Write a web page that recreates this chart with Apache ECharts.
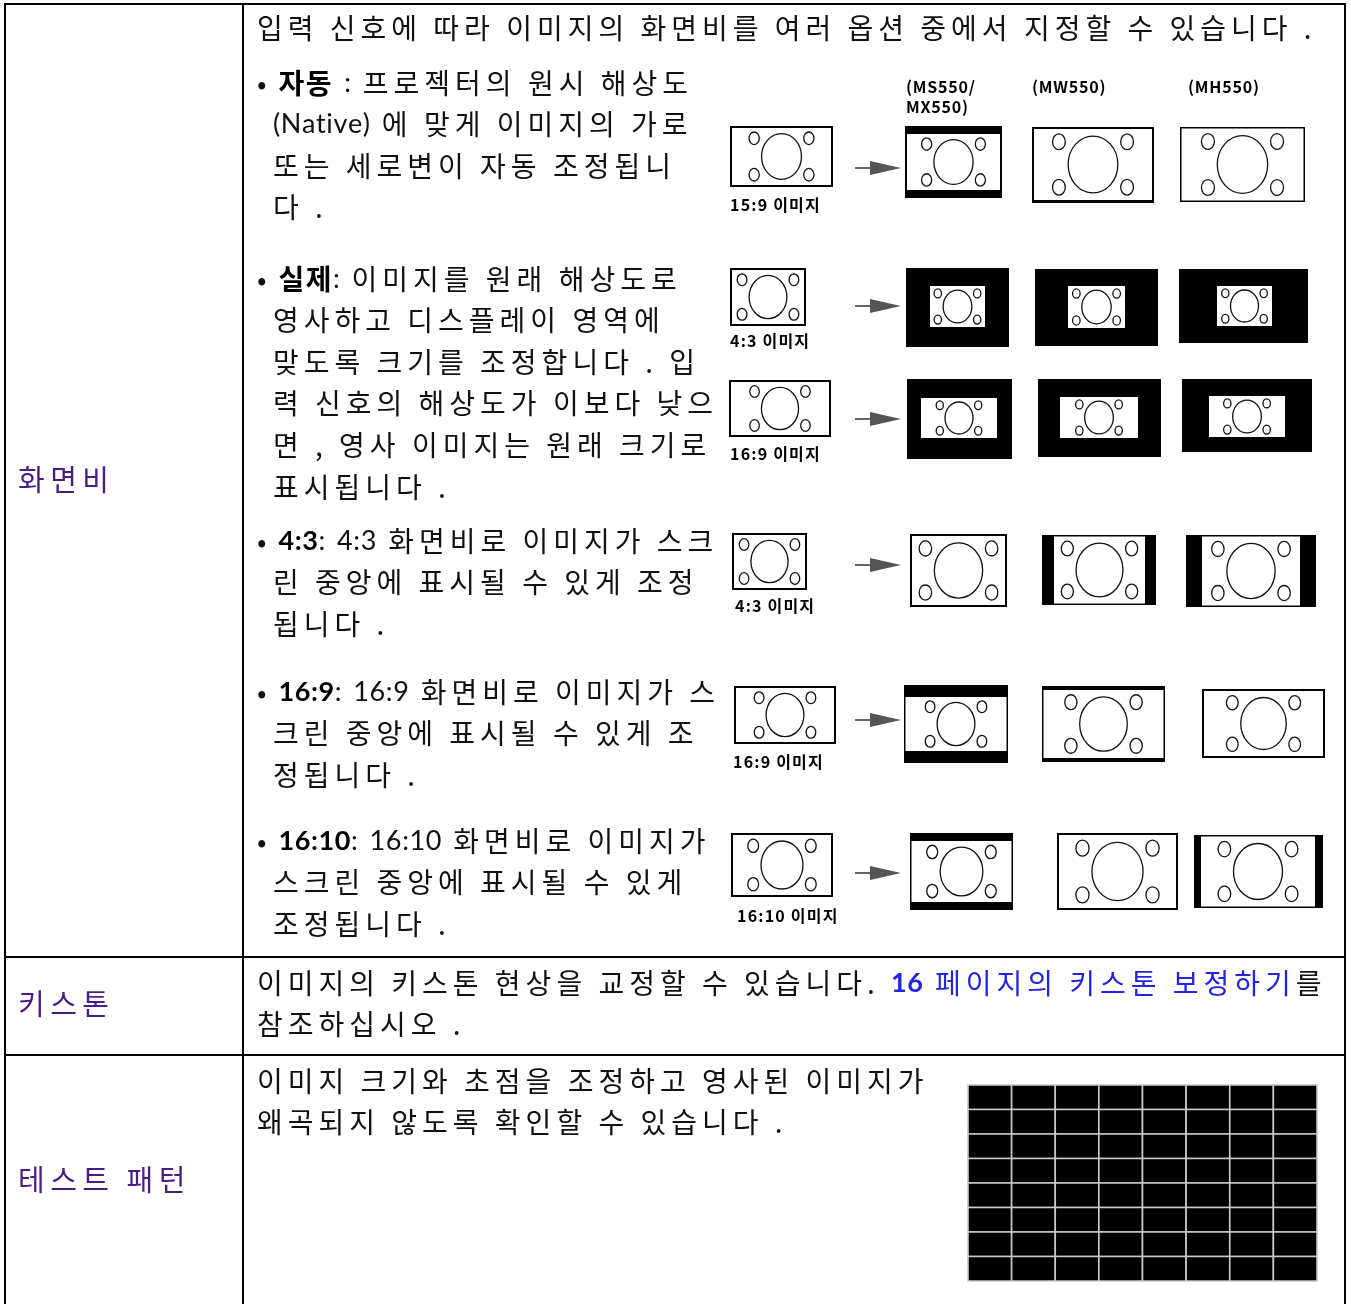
<!DOCTYPE html>
<html><head><meta charset="utf-8">
<script src="https://cdn.jsdelivr.net/npm/echarts@6/dist/echarts.min.js"></script>
<style>html,body{margin:0;padding:0;background:#fff}#c{width:1351px;height:1304px}</style>
</head><body><div id="c"></div>
<script>
// ---------- content (text) ----------
const rowLabels = ['화면비', '키스톤', '테스트 패턴'];
const introLines = ['입력 신호에 따라 이미지의 화면비를 여러 옵션 중에서 지정할 수 있습니다 .'];
const bulletAuto = ['• {b|자동} : 프로젝터의 원시 해상도', '(Native) 에 맞게 이미지의 가로', '또는 세로변이 자동 조정됩니', '다 .'];
const bulletReal = ['• {b|실제}: 이미지를 원래 해상도로', '영사하고 디스플레이 영역에', '맞도록 크기를 조정합니다 . 입', '력 신호의 해상도가 이보다 낮으', '면 , 영사 이미지는 원래 크기로', '표시됩니다 .'];
const bullet43 = ['• {b|4:3}: 4:3 화면비로 이미지가 스크', '린 중앙에 표시될 수 있게 조정', '됩니다 .'];
const bullet169 = ['• {b|16:9}: 16:9 화면비로 이미지가 스', '크린 중앙에 표시될 수 있게 조', '정됩니다 .'];
const bullet1610 = ['• {b|16:10}: 16:10 화면비로 이미지가', '스크린 중앙에 표시될 수 있게', '조정됩니다 .'];
const keystoneLines = ['이미지의 키스톤 현상을 교정할 수 있습니다. {lb|16} {l|페이지의 키스톤 보정하기}를', '참조하십시오 .'];
const testLines = ['이미지 크기와 초점을 조정하고 영사된 이미지가', '왜곡되지 않도록 확인할 수 있습니다 .'];
const sourceLabels = ['15:9 이미지', '4:3 이미지', '16:9 이미지', '4:3 이미지', '16:9 이미지', '16:10 이미지'];
const modelLabels = ['(MS550/', 'MX550)', '(MW550)', '(MH550)'];
const testGridCols = 8;
const testGridRows = 8;

// ---------- layout ----------
const TABLE = { x0: 5, xDiv: 243, x1: 1345, top: 4, bottom: 1304, rows: [957, 1055] };
const TEXT_X = 257, CONT_X = 273, LINE_H = 41.6, FS = 28, LS = 5.0, LS_BOLD = 1.5, LS_LATIN = 0.6, FS_LATIN = 27;
const BULLET_Y = [83, 279, 541, 692, 841];
const LABEL_POS = [[18, 480], [18, 1004], [18, 1180]];
const SRC_LABEL_POS = [[730, 205], [730, 341], [730, 454], [735, 606], [733, 762], [737, 916]];
const MODEL_POS = [[906, 87], [906, 107], [1032, 87], [1188, 87]];
const ARROW_Y = [168, 306, 419, 565, 720, 873];
const TEST_BOX = [968, 1085, 1317, 1281];
// frames: o = outer black box, i = white picture area
const FRAMES = [
  {o:[730,126,833,187], i:[732,128,831,185]},
  {o:[905,126,1002,198], i:[907,134,1000,190]},
  {o:[1032,127,1154,203], i:[1034,129,1152,200]},
  {o:[1180,127,1305,202], i:[1181.5,128.5,1303.5,200.5]},

  {o:[730,268,806,326], i:[732,270,804,324]},
  {o:[906,268,1009,347], i:[930,286,985,327]},
  {o:[1035,269,1158,346], i:[1068,286,1125,328]},
  {o:[1179,269,1308,343], i:[1217,286,1272,326]},

  {o:[729,380,831,437], i:[731,382,829,435]},
  {o:[907,379,1012,459], i:[921,398,997,438]},
  {o:[1038,379,1161,457], i:[1060,397,1138,438]},
  {o:[1182,379,1312,452], i:[1209,396,1285,437]},

  {o:[732,533,807,590], i:[734,535,805,588]},
  {o:[910,534,1007,607], i:[912,536,1005,605]},
  {o:[1042,535,1156,605], i:[1054,536.5,1145,603.5]},
  {o:[1186,535,1316,607], i:[1202,536.5,1300,605.5]},

  {o:[734,686,836,744], i:[736,688,834,742]},
  {o:[904,685,1008,763], i:[905.5,697,1006.5,751]},
  {o:[1042,686,1165,762], i:[1043.5,690,1163.5,758]},
  {o:[1202,689,1325,758], i:[1204,691,1323,756]},

  {o:[731,833,833,897], i:[733,835,831,895]},
  {o:[910,833,1013,910], i:[911.5,841,1011.5,902]},
  {o:[1057,833,1178,910], i:[1059,835,1176,908]},
  {o:[1194,835,1323,908], i:[1201,836.5,1315,906.5]}
];

const FONT = '"Noto Sans CJK KR", "Noto Sans", sans-serif';
const FONT_LATIN = 'Lato, "Noto Sans", sans-serif';
const STYLES = {
  n:  {fw: 'normal', fill: '#111'},
  b:  {fw: 'bold', fill: '#000'},
  l:  {fw: 'normal', fill: '#2323e6'},
  lb: {fw: 'bold', fill: '#2323e6'}
};
const mctx = document.createElement('canvas').getContext('2d');
function measure(ch, fw, fs, fam) {
  mctx.font = fw + ' ' + fs + 'px ' + fam;
  return mctx.measureText(ch).width;
}
const isLatin = ch => /[A-Za-z0-9()\/:]/.test(ch);

// lay out one line character by character, with letter spacing after Korean glyphs
function lineEls(str, x, y, opt) {
  opt = opt || {};
  const fs = opt.fs || FS, ls = opt.ls != null ? opt.ls : LS;
  const latinMode = opt.latin !== false;
  const out = [];
  const re = /\{(\w+)\|([^}]*)\}|([^{]+)/g;
  let m, cx = x;
  while ((m = re.exec(str)) !== null) {
    const key = m[1] || opt.style || 'n';
    const seg = m[1] ? m[2] : m[3];
    const st = Object.assign({}, STYLES[key]);
    if (opt.fill && !m[1]) st.fill = opt.fill;
    const boldSeg = !!m[1] && st.fw === 'bold';
    for (const ch of seg) {
      const lat = latinMode && isLatin(ch);
      const fam = lat ? FONT_LATIN : FONT;
      const size = lat ? Math.round(fs * FS_LATIN / FS) : fs;
      const w = measure(ch, st.fw, size, fam);
      if (ch !== ' ') {
        out.push({
          type: 'text', silent: true,
          style: {text: ch, x: cx, y: y, fontSize: size, fontFamily: fam, fontWeight: st.fw,
                  fill: st.fill, verticalAlign: 'middle', textAlign: 'left'}
        });
      }
      cx += w + ((lat || ch === '•') ? LS_LATIN : (boldSeg ? LS_BOLD : ls));
    }
  }
  return out;
}

const elements = [];
const add = arr => arr.forEach(e => elements.push(e));
introLines.forEach((s, k) => add(lineEls(s, TEXT_X, 28 + k * LINE_H)));
[bulletAuto, bulletReal, bullet43, bullet169, bullet1610].forEach((lines, bi) => {
  lines.forEach((s, k) => add(lineEls(s, k === 0 ? TEXT_X : CONT_X, BULLET_Y[bi] + k * LINE_H)));
});
keystoneLines.forEach((s, k) => add(lineEls(s, TEXT_X, 983 + k * LINE_H)));
testLines.forEach((s, k) => add(lineEls(s, TEXT_X, 1081 + k * LINE_H)));
rowLabels.forEach((s, k) => add(lineEls(s, LABEL_POS[k][0], LABEL_POS[k][1], {fill: '#4a1c86', fs: 29, ls: 5.5})));
sourceLabels.forEach((s, k) => add(lineEls(s, SRC_LABEL_POS[k][0], SRC_LABEL_POS[k][1], {fs: 16, ls: 1.2, style: 'b', latin: false})));
modelLabels.forEach((s, k) => add(lineEls(s, MODEL_POS[k][0], MODEL_POS[k][1], {fs: 16, ls: 0.8, style: 'b', latin: false})));

const chart = echarts.init(document.getElementById('c'), null, {renderer: 'canvas'});

function renderFrame(params, api) {
  const f = FRAMES[api.value(0)];
  const a = api.coord([f.o[0], f.o[1]]), b = api.coord([f.o[2], f.o[3]]);
  const c = api.coord([f.i[0], f.i[1]]), d = api.coord([f.i[2], f.i[3]]);
  const ch = [
    {type: 'rect', shape: {x: a[0], y: a[1], width: b[0] - a[0], height: b[1] - a[1]}, style: {fill: '#000'}},
    {type: 'rect', shape: {x: c[0], y: c[1], width: d[0] - c[0], height: d[1] - c[1]}, style: {fill: '#fff'}}
  ];
  const h = d[1] - c[1], cx = (c[0] + d[0]) / 2, cy = (c[1] + d[1]) / 2;
  const st = {fill: 'none', stroke: '#111', lineWidth: 1.3};
  [[-1, -1], [1, -1], [-1, 1], [1, 1]].forEach(([sx, sy]) => {
    ch.push({type: 'ellipse', shape: {cx: cx + sx * 0.48 * h, cy: cy + sy * 0.32 * h, rx: 0.09 * h, ry: 0.11 * h}, style: st});
  });
  ch.push({type: 'ellipse', shape: {cx: cx, cy: cy, rx: 0.35 * h, ry: 0.40 * h}, style: st});
  return {type: 'group', children: ch};
}

function renderArrow(params, api) {
  const y = api.value(1);
  const p0 = api.coord([855, y]), p1 = api.coord([870, y]), p2 = api.coord([901, y]);
  return {type: 'group', children: [
    {type: 'line', shape: {x1: p0[0], y1: p0[1], x2: p1[0] + 2, y2: p1[1]}, style: {stroke: '#555', lineWidth: 1.8}},
    {type: 'polygon', shape: {points: [[p1[0], p1[1] - 7], [p2[0], p2[1]], [p1[0], p1[1] + 7]]}, style: {fill: '#555'}}
  ]};
}

function renderCell(params, api) {
  const col = api.value(0), row = api.value(1);
  const cw = (TEST_BOX[2] - TEST_BOX[0]) / testGridCols, rh = (TEST_BOX[3] - TEST_BOX[1]) / testGridRows;
  const a = api.coord([TEST_BOX[0] + col * cw, TEST_BOX[1] + row * rh]);
  const b = api.coord([TEST_BOX[0] + (col + 1) * cw, TEST_BOX[1] + (row + 1) * rh]);
  return {type: 'rect', shape: {x: a[0], y: a[1], width: b[0] - a[0], height: b[1] - a[1]},
    style: {fill: '#000', stroke: '#c9c9c9', lineWidth: 1.6}};
}

function renderTable(params, api) {
  const L = (x1, y1, x2, y2) => {
    const p = api.coord([x1, y1]), q = api.coord([x2, y2]);
    return {type: 'line', shape: {x1: p[0], y1: p[1], x2: q[0], y2: q[1]}, style: {stroke: '#000', lineWidth: 2}};
  };
  const ch = [
    L(TABLE.x0 - 1, TABLE.top, TABLE.x1 + 1, TABLE.top),
    L(TABLE.x0, TABLE.top, TABLE.x0, TABLE.bottom),
    L(TABLE.xDiv, TABLE.top, TABLE.xDiv, TABLE.bottom),
    L(TABLE.x1, TABLE.top, TABLE.x1, TABLE.bottom)
  ];
  TABLE.rows.forEach(y => ch.push(L(TABLE.x0 - 1, y, TABLE.x1 + 1, y)));
  return {type: 'group', children: ch};
}

const cells = [];
for (let r = 0; r < testGridRows; r++) for (let c = 0; c < testGridCols; c++) cells.push([c, r]);

chart.setOption({
  animation: false,
  backgroundColor: '#fff',
  grid: {left: 0, right: 0, top: 0, bottom: 0},
  xAxis: {type: 'value', min: 0, max: 1351, show: false},
  yAxis: {type: 'value', min: 0, max: 1304, inverse: true, show: false},
  series: [
    {type: 'custom', silent: true, clip: false, renderItem: renderTable, data: [[0, 0]]},
    {type: 'custom', silent: true, clip: false, renderItem: renderFrame, data: FRAMES.map((f, k) => [k, k])},
    {type: 'custom', silent: true, clip: false, renderItem: renderArrow, data: ARROW_Y.map((y, k) => [k, y])},
    {type: 'custom', silent: true, clip: false, renderItem: renderCell, data: cells}
  ],
  graphic: {elements: elements}
});
</script>
</body></html>
